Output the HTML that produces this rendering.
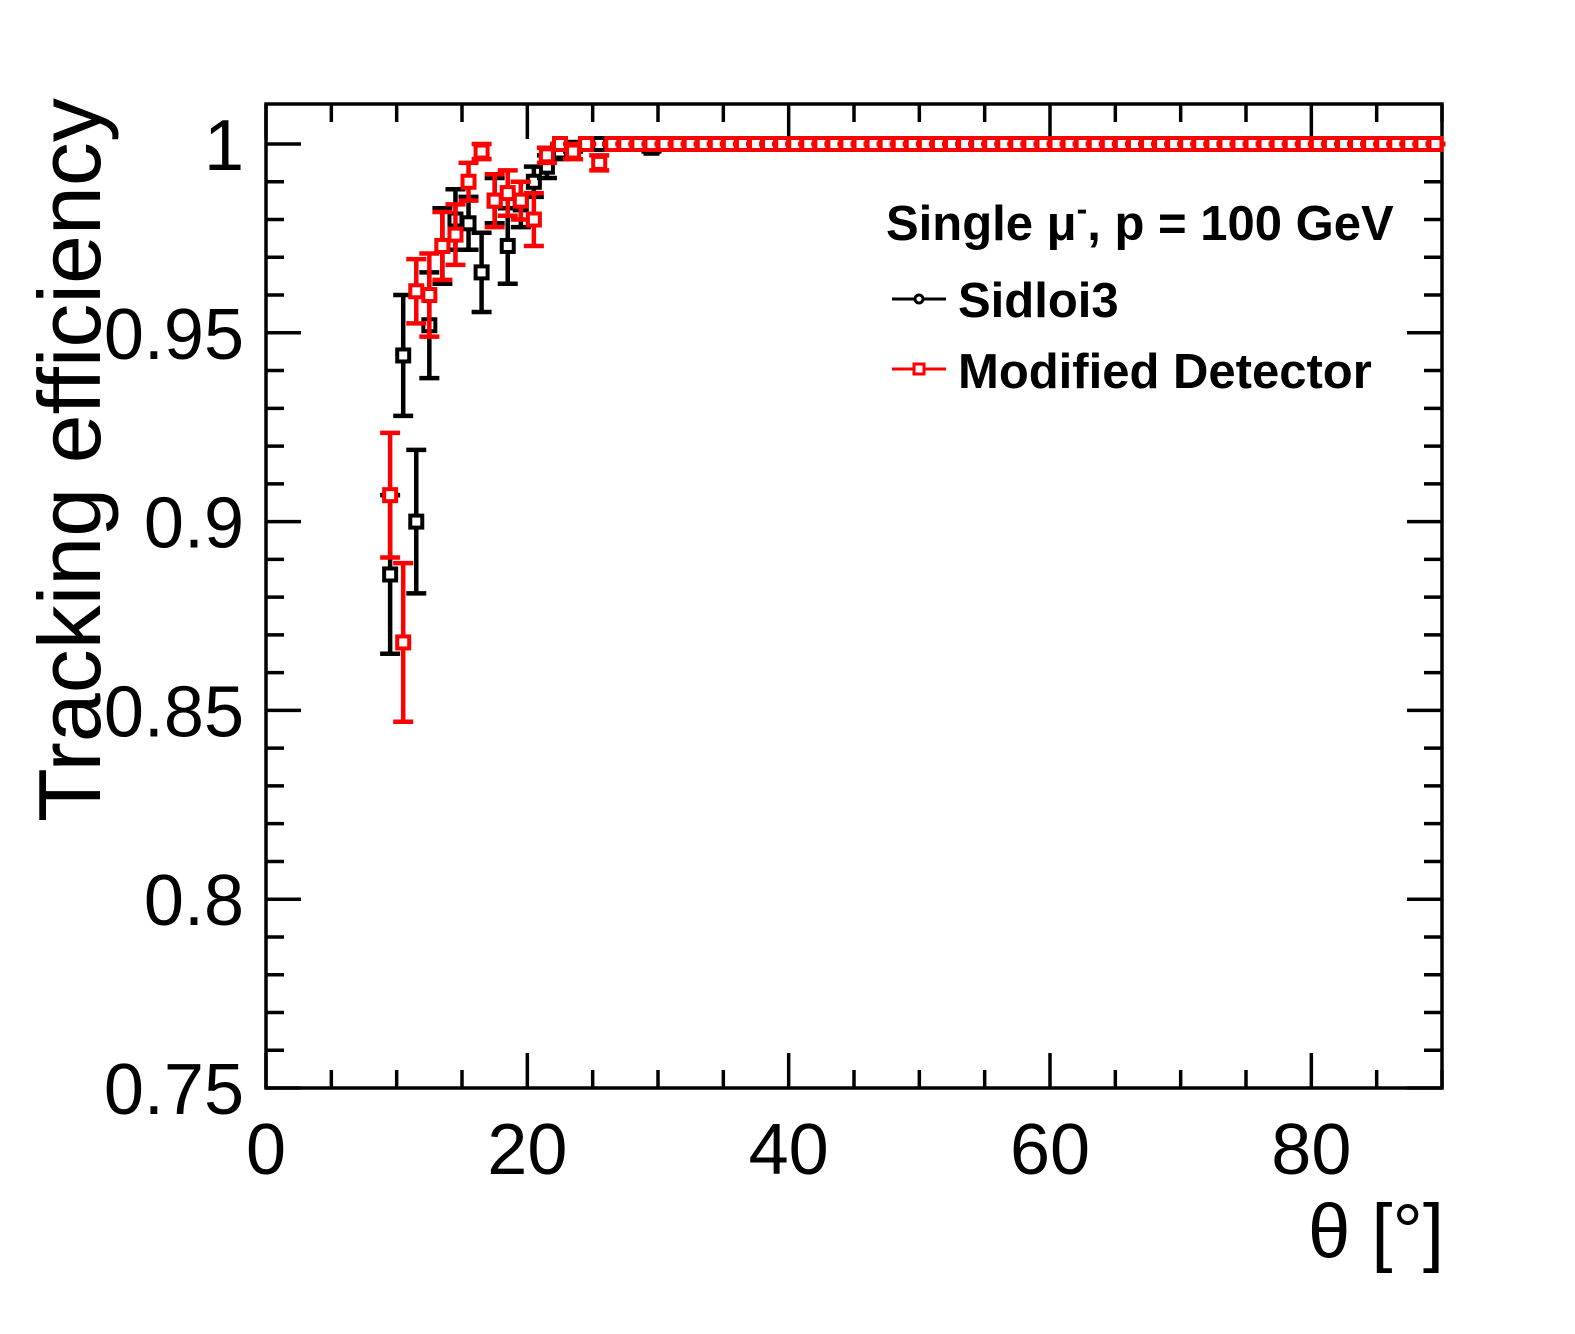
<!DOCTYPE html>
<html><head><meta charset="utf-8"><style>body{margin:0;background:#fff}svg{display:block}text{font-family:"Liberation Sans",sans-serif}</style></head>
<body>
<svg width="1575" height="1334" viewBox="0 0 1575 1334">
<g id="axes"></g><g id="series"></g>
<text x="0" y="0" font-size="88" transform="translate(100,822) rotate(-90)">Tracking efficiency</text>
<text x="1444" y="1257" font-size="76" text-anchor="end">θ [°]</text>
<g font-weight="bold" font-size="49">
<text x="886" y="240">Single μ<tspan dy="-20" font-size="32">-</tspan><tspan dy="20">, p = 100 GeV</tspan></text>
<line x1="892" y1="299" x2="946" y2="299" stroke="#000" stroke-width="3"/><circle cx="919" cy="299" r="4" fill="#fff" stroke="#000" stroke-width="3"/>
<text x="958" y="317">Sidloi3</text>
<line x1="892" y1="369" x2="946" y2="369" stroke="#f00" stroke-width="3"/><rect x="914" y="364" width="10" height="10" fill="#fff" stroke="#f00" stroke-width="3"/>
<text x="958" y="388">Modified Detector</text>
</g>
</svg>
<script>
const xTicks=[0,20,40,60,80];
const yTicks=[0.75,0.8,0.85,0.9,0.95,1];
const yTickLabels=["0.75","0.8","0.85","0.9","0.95","1"];
const blackX=[9.5,10.5,11.5,12.5,13.5,14.5,15.5,16.5,17.5,18.5,19.5,20.5,21.5,22.5,23.5,24.5,25.5,26.5,27.5,28.5,29.5];
const blackY=[0.886,0.944,0.900,0.952,0.973,0.980,0.979,0.966,0.985,0.973,0.984,0.990,0.994,0.998,0.999,1,1,1,1,1,0.999];
const blackErr=[0.021,0.016,0.019,0.014,0.010,0.008,0.007,0.0105,0.006,0.010,0.006,0.004,0.003,0.002,0.001,0,0,0,0,0,0.001];
const redX=[9.5,10.5,11.5,12.5,13.5,14.5,15.5,16.5,17.5,18.5,19.5,20.5,21.5,22.5,23.5,24.5,25.5];
const redY=[0.907,0.868,0.961,0.960,0.973,0.976,0.990,0.998,0.985,0.987,0.985,0.980,0.997,1.0,0.998,1,0.995];
const redErr=[0.0165,0.021,0.0085,0.011,0.009,0.008,0.005,0.002,0.007,0.006,0.005,0.007,0.002,0,0.002,0,0.002];
const X0=266,X1=1442,Y0=1088,Y1=144;
const xs=v=>X0+(v/90)*(X1-X0);
const ys=v=>Y0-(v-0.75)/0.25*(Y0-Y1);
const NS="http://www.w3.org/2000/svg";
function mk(t,a,p){const e=document.createElementNS(NS,t);for(const k in a)e.setAttribute(k,a[k]);p.appendChild(e);return e;}
const ax=document.getElementById('axes');
const fr=mk('rect',{x:X0,y:Y1-40,width:X1-X0,height:Y0-Y1+40,fill:'none',stroke:'#000','stroke-width':3.5},ax);


for(let v=0;v<=90;v+=5){const x=xs(v);const L=v%20===0?35:18;mk('line',{x1:x,x2:x,y1:Y0,y2:Y0-L,stroke:'#000','stroke-width':3.5},ax);mk('line',{x1:x,x2:x,y1:Y1-40,y2:Y1-40+L,stroke:'#000','stroke-width':3.5},ax);}
for(let i=0;i<=25;i++){const v=0.75+i*0.01;const y=ys(v);const L=i%5===0?35:18;mk('line',{x1:X0,x2:X0+L,y1:y,y2:y,stroke:'#000','stroke-width':3.5},ax);mk('line',{x1:X1,x2:X1-L,y1:y,y2:y,stroke:'#000','stroke-width':3.5},ax);}
xTicks.forEach(v=>{const t=mk('text',{x:xs(v),y:1174,'font-size':72,'text-anchor':'middle'},ax);t.textContent=v;

});
yTicks.forEach((v,i)=>{const t=mk('text',{x:244,y:ys(v)+26,'font-size':72,'text-anchor':'end'},ax);t.textContent=yTickLabels[i];

});
const se=document.getElementById('series');
function draw(X,Y,E,col,name){
 for(let i=0;i<81;i++){const xv=i<X.length?X[i]:9.5+i;const yv=i<Y.length?Y[i]:1;const ev=i<E.length?E[i]:0;
  const g=mk('g',{},se);
  
  
  const x=xs(xv),y=ys(yv),yt=ys(Math.min(yv+ev,1.0001)),yb=ys(yv-ev);
  mk('line',{x1:x,x2:x,y1:yt,y2:yb,stroke:col,'stroke-width':4.5},g);
  mk('line',{x1:x-10,x2:x+10,y1:yt,y2:yt,stroke:col,'stroke-width':4.5},g);
  mk('line',{x1:x-10,x2:x+10,y1:yb,y2:yb,stroke:col,'stroke-width':4.5},g);
  mk('line',{x1:x-7,x2:x+7,y1:y,y2:y,stroke:col,'stroke-width':4.5},g);
  mk('rect',{x:x-6,y:y-6,width:12,height:12,fill:'#fff',stroke:col,'stroke-width':4},g);
 }
}
draw(blackX,blackY,blackErr,'#000','sidloi3');
draw(redX,redY,redErr,'#f00','modified');
</script>
</body></html>
